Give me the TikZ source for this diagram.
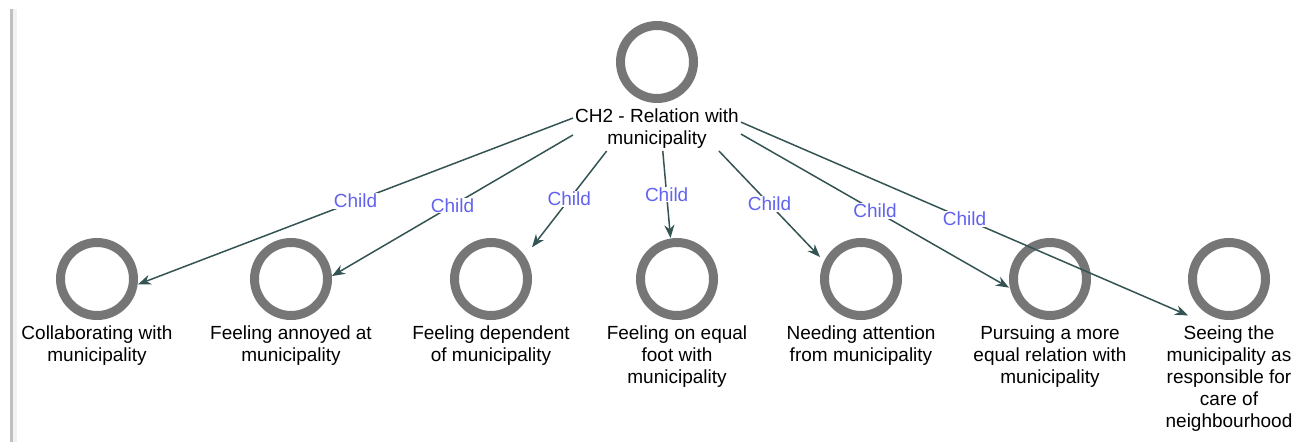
\documentclass[tikz,border=0pt]{standalone}
\usepackage{fontspec}
\setmainfont{Liberation Sans}
\usetikzlibrary{positioning,arrows.meta}
\definecolor{ringgray}{RGB}{118,118,118}
\definecolor{edgeslate}{RGB}{52,84,84}
\definecolor{childblue}{RGB}{98,98,240}
\begin{document}
\begin{tikzpicture}
[x=1pt, y=1pt,
ring/.style ={circle, draw=ringgray, line width=9pt, minimum size=73pt, inner sep=0pt},
lbl/.style ={align=center, inner sep=0pt, font=\fontsize{19}{22}\selectfont},
hit/.style ={rectangle, minimum width=82pt, inner sep=0pt, outer sep=0pt},
kid/.style ={-{Stealth[length=13pt,width=10pt]}, draw=edgeslate, line width=1.5pt},
tag/.style ={fill=white, text=childblue, inner sep=1pt, font=\fontsize{19}{22}\selectfont}]
\useasboundingbox (0,0) rectangle (1311,-442);
\fill[black!25] (10,-9) rectangle (13,-442);
\fill[black!5] (13,-9) rectangle (17,-442);
% parent
\node[ring] (root) at (657,-62) {};
\node[lbl, below=6pt of root] (roottxt) {CH2 - Relation with\\municipality};
\node[hit, minimum width=168pt, minimum height=130pt, below=0pt of root.north] (rootbox) {};
% children
\node[ring] (c1) at (97,-279) {};
\node[ring] (c2) at (291,-279) {};
\node[ring] (c3) at (491,-279) {};
\node[ring] (c4) at (677,-279) {};
\node[ring] (c5) at (861,-279) {};
\node[ring] (c6) at (1050,-279) {};
\node[ring] (c7) at (1229,-279) {};
\node[lbl, below=6pt of c1] (t1) {Collaborating with\\municipality};
\node[lbl, below=6pt of c2] (t2) {Feeling annoyed at\\municipality};
\node[lbl, below=6pt of c3] (t3) {Feeling dependent\\of municipality};
\node[lbl, below=6pt of c4] (t4) {Feeling on equal\\foot with\\municipality};
\node[lbl, below=6pt of c5] (t5) {Needing attention\\from municipality};
\node[lbl, below=6pt of c6] (t6) {Pursuing a more\\equal relation with\\municipality};
\node[lbl, below=6pt of c7] (t7) {Seeing the\\municipality as\\responsible for\\care of\\neighbourhood};
\node[hit, minimum height=124pt, below=0pt of c1.north] (h1) {};
\node[hit, minimum height=124pt, below=0pt of c2.north] (h2) {};
\node[hit, minimum height=124pt, below=0pt of c3.north] (h3) {};
\node[hit, minimum height=146pt, below=0pt of c4.north] (h4) {};
\node[hit, minimum height=124pt, below=0pt of c5.north] (h5) {};
\node[hit, minimum height=146pt, below=0pt of c6.north] (h6) {};
\node[hit, minimum height=190pt, below=0pt of c7.north] (h7) {};
% edges
\draw[kid] (rootbox) -- node[tag]{Child} (h1);
\draw[kid] (rootbox) -- node[tag]{Child} (h2);
\draw[kid] (rootbox) -- node[tag]{Child} (h3);
\draw[kid] (rootbox) -- node[tag]{Child} (h4);
\draw[kid] (rootbox) -- node[tag]{Child} (h5);
\draw[kid] (rootbox) -- node[tag]{Child} (h6);
\draw[kid] (rootbox) -- node[tag]{Child} (h7);
\end{tikzpicture}
\end{document}
